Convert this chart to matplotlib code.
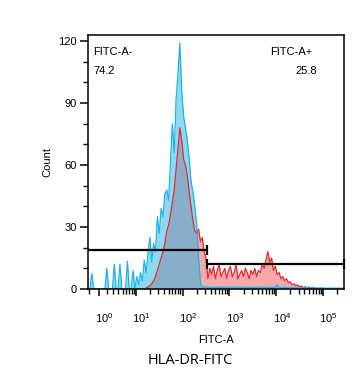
import numpy as np
import matplotlib
matplotlib.use('Agg')
import matplotlib.pyplot as plt
from matplotlib.transforms import ScaledTranslation

plt.rcParams['font.family'] = ['Liberation Sans', 'DejaVu Sans']
plt.rcParams['mathtext.fontset'] = 'custom'
plt.rcParams['mathtext.rm'] = 'Liberation Sans'

# ---- data: histogram counts per bin (bins of 0.04 decade on a biexponential axis) ----
bin_width = 0.04
blue_counts = [0, 7.5, 0, 0, 0, 0, 0, 0, 0, 10, 0, 0, 0, 12, 0, 0, 12, 0, 0, 0,
               13.5, 0, 0, 9, 0, 6, 2, 8, 4, 14, 8, 17, 25, 13, 22, 18, 35, 27, 39, 35,
               46, 48, 43, 62, 80, 66, 92, 104, 119, 96, 84, 78, 72, 63, 52, 47, 40, 31, 15, 3,
               1, 1, 0.8, 1, 0.7, 1, 0.9, 0.6, 1, 0.8, 1, 0.7, 0.9, 1, 0.6, 0.8, 1, 0.7, 0.9, 0.8,
               1, 0.6, 0.9, 0.8, 1, 0.7, 0.8, 1, 0.6, 0.9, 0.8, 1, 0.7, 0.9, 0.6, 0.8, 1, 0.7, 0.8, 0.9,
               2, 0.7, 0.8, 0.6, 0.9, 0.7, 0.6, 0.8, 0.6, 0.7, 0.5, 0.6, 0.5, 0.7, 0.5, 0.6, 0.5, 0.5, 0.6, 0.5,
               0.5, 0.5, 0.4, 0.5, 0.4, 0.5, 0.4, 0.4, 0.5, 0.4, 0.4, 0.4, 0.4, 0.4, 0.4, 0.4]
red_counts = [0] * 30 + [0.5, 1, 1.5, 2.5, 4, 6, 9, 12, 15, 18, 22, 28, 31, 36, 42, 48, 58, 68, 78, 72,
               63, 60, 55, 47, 40, 33, 28, 27, 29, 23, 25, 18, 15, 5,
               10, 7, 11, 5, 9, 12, 6, 8, 10, 5, 9, 11, 6, 8, 12, 5, 7, 9, 6, 10, 8, 5, 9, 7, 10, 6, 9, 8,
               12, 10, 14, 18, 13, 15, 9, 11,
               7, 8, 5, 6, 4, 5, 3, 3.5, 2, 2.5, 1.5, 2, 1, 1.5, 0.5, 1.2, 0.3, 1, 0.2, 0.8, 0.2, 0.5, 0, 0.6] + [0] * 12

gate_split = 330          # FITC-A- / FITC-A+ boundary
gate_neg_label, gate_neg_pct = "FITC-A-", "74.2"
gate_pos_label, gate_pos_pct = "FITC-A+", "25.8"
y_ticks = [0, 30, 60, 90, 120]
x_major = [1, 10, 100, 1000, 10000, 100000]
x_labels = [r'$\mathregular{10^{%d}}$' % k for k in range(6)]

# ---- biexponential-like axis ----
LN10 = np.log(10)
def fwd(v):
    return np.arcsinh(np.asarray(v, dtype=float) / 2.0) / LN10
def inv(u):
    return 2.0 * np.sinh(np.asarray(u, dtype=float) * LN10)

n = len(blue_counts)
centers = inv((np.arange(n) + 0.5) * bin_width)
nr = len(red_counts)
centers_r = inv((np.arange(nr) + 0.5) * bin_width)

fig = plt.figure(figsize=(3.62, 3.80), dpi=100)
ax = fig.add_axes([88/362, 1 - 289/380, 256/362, 254/380])
ax.set_xscale('function', functions=(fwd, inv))
xmin, xmax = -0.1, 2.8e5
ax.set_xlim(xmin, xmax)
ax.set_ylim(0, 123)

red_c = '#e8282c'
blue_c = '#1db4e8'
ax.fill_between(centers_r, red_counts, color=red_c, alpha=0.4, lw=0)
ax.plot(centers_r, red_counts, color=red_c, lw=0.9)
ax.fill_between(centers, blue_counts, color=blue_c, alpha=0.5, lw=0)
ax.plot(centers, blue_counts, color=blue_c, lw=0.9)

# gates
lvl_neg, lvl_pos, half = 19, 12, 2.3
ax.hlines(lvl_neg, xmin, gate_split, color='black', lw=1.6)
ax.vlines(gate_split, lvl_neg - half, lvl_neg + half, color='black', lw=1.6)
ax.hlines(lvl_pos, gate_split, xmax, color='black', lw=1.6, clip_on=False)
ax.vlines(gate_split, lvl_pos - half, lvl_pos + half, color='black', lw=1.6)
ax.vlines(xmax, lvl_pos - half, lvl_pos + half, color='black', lw=1.6, clip_on=False)

ax.text(0.02, 0.933, gate_neg_label, transform=ax.transAxes, fontsize=8, va='center', ha='left')
ax.text(0.02, 0.858, gate_neg_pct, transform=ax.transAxes, fontsize=8, va='center', ha='left')
ax.text(0.875, 0.933, gate_pos_label, transform=ax.transAxes, fontsize=8, va='center', ha='right')
ax.text(0.895, 0.858, gate_pos_pct, transform=ax.transAxes, fontsize=8, va='center', ha='right')

# y axis
ax.set_yticks(y_ticks)
ax.set_yticks(np.arange(0, 121, 10), minor=True)
ax.tick_params(axis='y', which='major', length=6, width=1.1, labelsize=8, pad=2)
ax.tick_params(axis='y', which='minor', length=3.5, width=1.0)
ax.set_ylabel('Count', fontsize=8, labelpad=4)

# x axis
minor = [0] + [m * 10**k for k in range(5) for m in range(2, 10)] + [2e5]
ax.set_xticks(x_major)
ax.set_xticklabels(x_labels)
ax.set_xticks(minor, minor=True)
ax.set_xticklabels([], minor=True)
ax.tick_params(axis='x', which='major', length=5, width=1.1, labelsize=8, pad=11)
ax.tick_params(axis='x', which='minor', length=3.5, width=1.0)
for lab in ax.get_xticklabels():
    lab.set_transform(lab.get_transform() + ScaledTranslation(4/72, 0, fig.dpi_scale_trans))
ax.set_xlabel('FITC-A', fontsize=8, labelpad=7)

for s in ax.spines.values():
    s.set_linewidth(1.1)

fig.text(190/362, 1 - 360/380, 'HLA-DR-FITC', fontsize=10.5, ha='center', va='center',
         family=['Open Sans', 'DejaVu Sans'])

fig.savefig('out.png', dpi=100)
